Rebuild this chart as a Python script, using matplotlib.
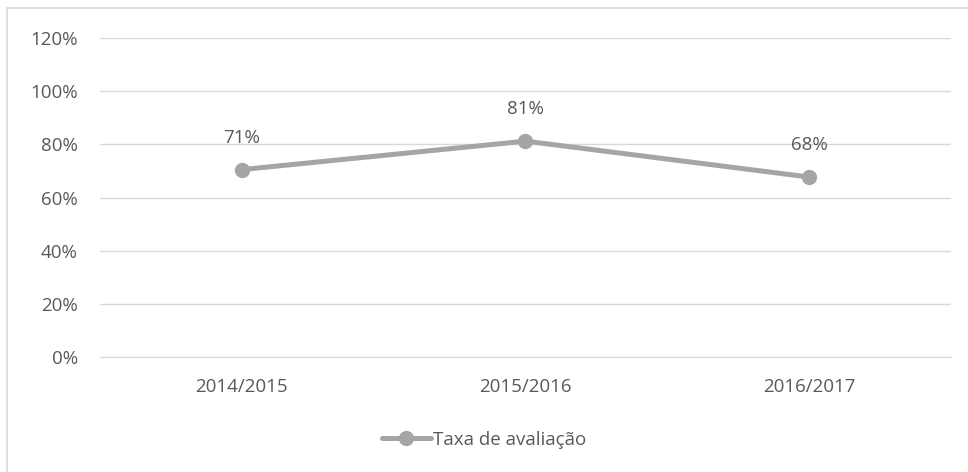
import matplotlib
matplotlib.use("Agg")
import matplotlib.pyplot as plt
from matplotlib.patches import Rectangle

# -------------------------------
# Data
# -------------------------------
categories = ["2014/2015", "2015/2016", "2016/2017"]
values = [0.705, 0.812, 0.677]
labels = ["71%", "81%", "68%"]
yticks = [0, 0.2, 0.4, 0.6, 0.8, 1.0, 1.2]
ytick_labels = ["0%", "20%", "40%", "60%", "80%", "100%", "120%"]
series_name = "Taxa de avaliação"

TEXT_COLOR = "#595959"
LINE_COLOR = "#A5A5A5"
GRID_COLOR = "#D9D9D9"
FS = 13.5

plt.rcParams['font.family'] = ['Open Sans', 'DejaVu Sans']

fig = plt.figure(figsize=(9.68, 4.72), dpi=100)
ax = fig.add_axes([0.1033, 0.2436, 0.8791, 0.6759])

# outer chart frame
fig.patches.append(Rectangle((0.0072, -0.01), 1.0, 0.993, transform=fig.transFigure,
                             fill=False, edgecolor=GRID_COLOR, linewidth=1.2))

x = list(range(len(categories)))
ax.plot(x, values, color=LINE_COLOR, linewidth=3.6, marker="o", markersize=10,
        solid_capstyle="round", label=series_name, zorder=3)

for xi, v, lab in zip(x, values, labels):
    ax.annotate(lab, (xi, v), xytext=(0, 23), textcoords="offset points",
                ha="center", va="center", fontsize=FS, color=TEXT_COLOR)

ax.set_xlim(-0.5, len(categories) - 0.5)
ax.set_ylim(0, 1.2)
ax.set_yticks(yticks)
ax.set_yticklabels(ytick_labels)
ax.set_xticks(x)
ax.set_xticklabels(categories)
ax.tick_params(axis="both", length=0, labelsize=FS, labelcolor=TEXT_COLOR)
ax.tick_params(axis="y", pad=16)
ax.tick_params(axis="x", pad=15)

ax.grid(axis="y", color=GRID_COLOR, linewidth=1)
ax.set_axisbelow(True)
for side in ["top", "right", "left"]:
    ax.spines[side].set_visible(False)
ax.spines["bottom"].set_color(GRID_COLOR)

leg = fig.legend(loc="center", bbox_to_anchor=(0.5, 0.068), frameon=False,
                 fontsize=FS, handlelength=2.6, handletextpad=0.1)
for t in leg.get_texts():
    t.set_color(TEXT_COLOR)

fig.savefig("out.png", dpi=100)
